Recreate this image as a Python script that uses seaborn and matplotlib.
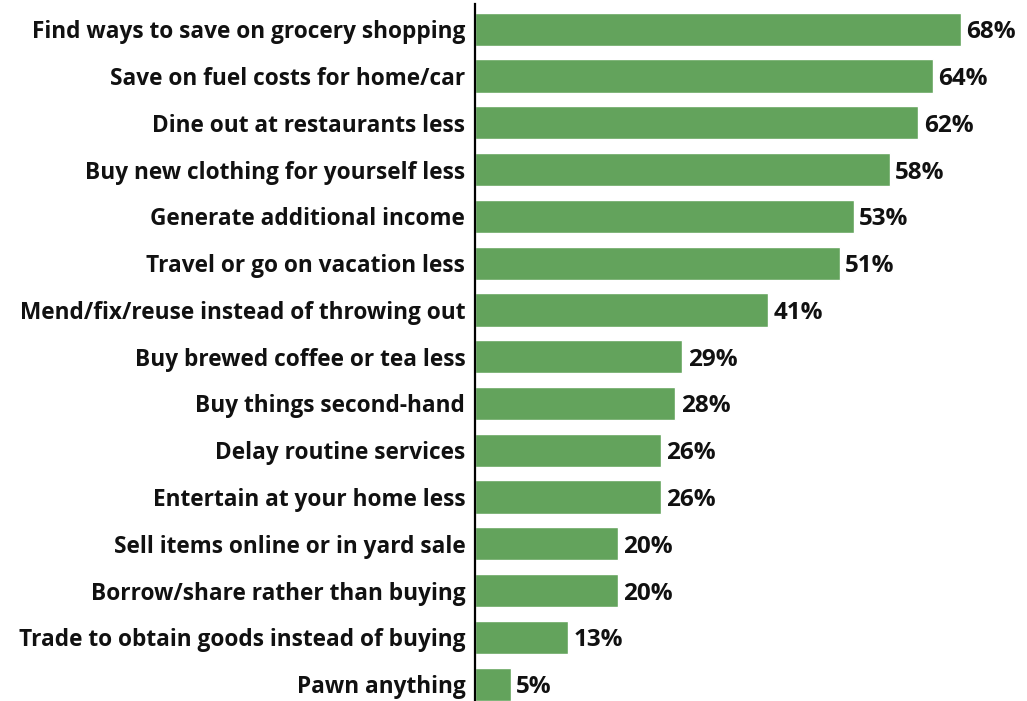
import matplotlib
matplotlib.use("Agg")
import matplotlib.pyplot as plt
import seaborn as sns
import pandas as pd

categories = [
    "Find ways to save on grocery shopping",
    "Save on fuel costs for home/car",
    "Dine out at restaurants less",
    "Buy new clothing for yourself less",
    "Generate additional income",
    "Travel or go on vacation less",
    "Mend/fix/reuse instead of throwing out",
    "Buy brewed coffee or tea less",
    "Buy things second-hand",
    "Delay routine services",
    "Entertain at your home less",
    "Sell items online or in yard sale",
    "Borrow/share rather than buying",
    "Trade to obtain goods instead of buying",
    "Pawn anything",
]
values = [68, 64, 62, 58, 53, 51, 41, 29, 28, 26, 26, 20, 20, 13, 5]

df = pd.DataFrame({"category": categories, "value": values})

sns.set_theme(style="white")
plt.rcParams["font.family"] = ["Open Sans", "DejaVu Sans"]

fig = plt.figure(figsize=(10.27, 7.01), dpi=100)
ax = fig.add_axes([475 / 1027, 0.0, 1 - 475 / 1027, 1 - 4 / 701])

sns.barplot(data=df, x="value", y="category", color="#63a35c", saturation=1,
            width=0.71, ax=ax, orient="h")

ax.set_xlim(0, 77.2)
ax.set_ylim(14.36, -0.54)
ax.set_xlabel("")
ax.set_ylabel("")
ax.set_xticks([])
for s in ["top", "right", "bottom"]:
    ax.spines[s].set_visible(False)
ax.spines["left"].set_color("black")
ax.spines["left"].set_linewidth(1.6)
ax.tick_params(axis="y", length=0, pad=7)
for lbl in ax.get_yticklabels():
    lbl.set_fontsize(16.3)
    lbl.set_fontweight("bold")
    lbl.set_color("#111111")
    lbl.set_verticalalignment("center_baseline")

for i, v in enumerate(values):
    ax.text(v + 0.75, i, f"{v}%", va="center_baseline", ha="left",
            fontsize=17.5, fontweight="bold", color="#111111")

fig.savefig("out.png", dpi=100)
